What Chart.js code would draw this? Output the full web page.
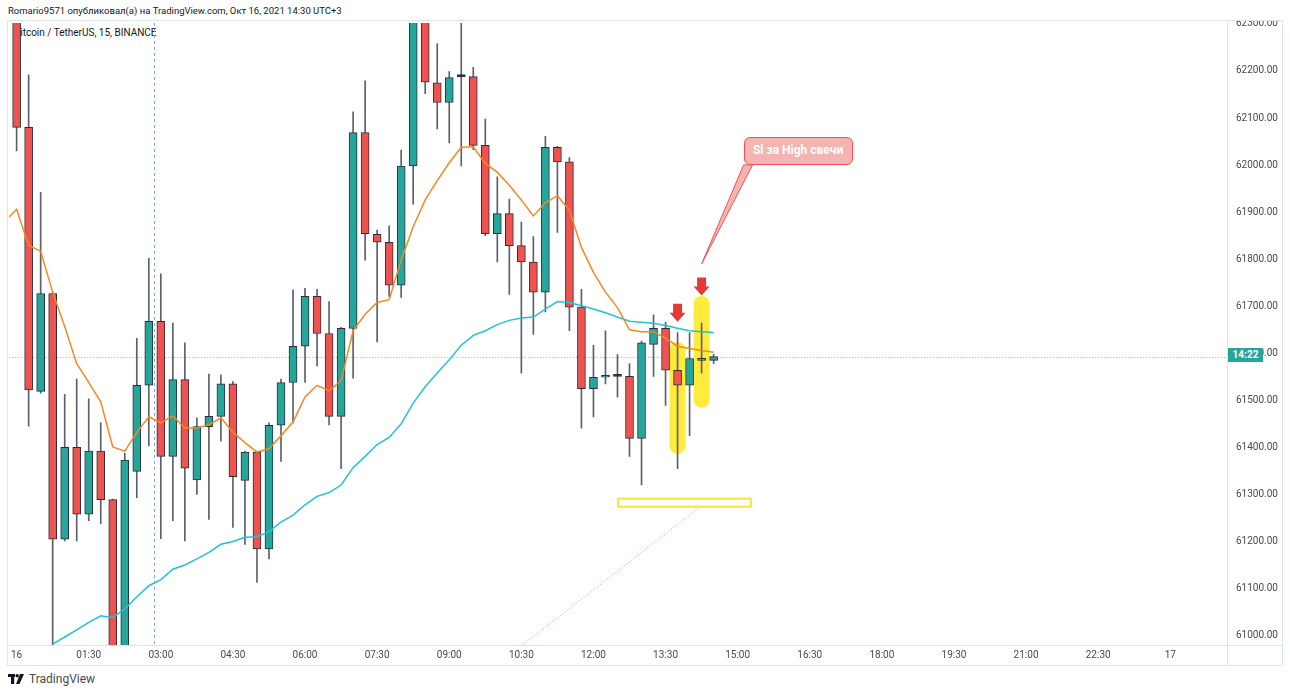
<!DOCTYPE html>
<html>
<head>
<meta charset="utf-8">
<script src="https://cdn.jsdelivr.net/npm/chart.js@4.4.1/dist/chart.umd.min.js"></script>
<style>
  body { margin:0; background:#fff; width:1290px; height:693px; overflow:hidden; position:relative; font-family: Roboto, "Noto Sans", sans-serif; }
  #header { position:absolute; left:0; top:0; width:1290px; height:20px; background:#fff; z-index:3; font-size:9.5px; color:#131722; line-height:22px; padding-left:8px; box-sizing:border-box; }
  #symbol { position:absolute; left:14px; top:27px; font-size:10px; color:#131722; z-index:0; }
  #wrap { position:absolute; left:7px; top:8px; width:1276px; height:657px; z-index:1; }
  .ln { position:absolute; background:#e0e3eb; z-index:2; }
  #timer { position:absolute; left:1228px; top:348px; width:35px; height:14px; background:#26a69a; color:#fff; font-size:10px; font-weight:bold; text-align:center; line-height:14px; z-index:4; }
  #callout { position:absolute; width:109px; height:28px; box-sizing:border-box; background:#f4b4b2; border:1.5px solid #ef5350; border-radius:6px; color:#fff; font-size:12px; font-weight:bold; text-align:center; line-height:25px; z-index:4; }
  #logo { position:absolute; left:8px; top:672px; height:14px; display:flex; align-items:center; gap:5px; font-size:12px; color:#4a4a4a; }
</style>
</head>
<body>
<div id="header">Romario9571 опубликовал(а) на TradingView.com, Окт 16, 2021 14:30 UTC+3</div>
<div id="symbol">Bitcoin / TetherUS, 15, BINANCE</div>
<div id="wrap"><canvas id="myChart" width="1276" height="657"></canvas></div>
<div class="ln" style="left:7px;top:20px;width:1276px;height:1px"></div>
<div class="ln" style="left:7px;top:665px;width:1276px;height:1px"></div>
<div class="ln" style="left:7px;top:20px;width:1px;height:646px"></div>
<div class="ln" style="left:1282px;top:20px;width:1px;height:646px"></div>
<div class="ln" style="left:7px;top:645px;width:1276px;height:1px"></div>
<div class="ln" style="left:1227px;top:20px;width:1px;height:646px"></div>
<div id="timer">14:22</div>
<div id="callout">Sl за High свечи</div>
<div id="logo">
  <svg width="16" height="10" viewBox="0 0 16 10"><rect x="0" y="0" width="7" height="3" fill="#131722"/><rect x="3" y="0" width="3.2" height="10" fill="#131722"/><circle cx="9.2" cy="1.7" r="1.7" fill="#131722"/><polygon points="12,0 16,0 11.5,10 8,10" fill="#131722"/></svg>
  <span>TradingView</span>
</div>
<script>
// 15m candles, 16 Oct 00:00 .. 14:30
const opens  = [62360,62080,61519,61727,61205,61400,61258,61392,61289,60950,
                61349,61532,61668,61381,61544,61331,61444,61466,61535,61330,
                61390,61184,61447,61538,61615,61721,61642,61466,61653,62069,
                61853,61836,61745,61998,62320,62175,62133,62188,62188,62042,
                61854,61897,61829,61794,61730,62038,62007,61698,61525,61549,
                61551,61551,61419,61619,61653,61564,61532,61589,61585];
const highs  = [62400,62192,61942,61730,61513,61545,61503,61452,61290,61388,
                61632,61802,61769,61664,61622,61463,61556,61554,61540,61392,
                61392,61452,61545,61735,61738,61736,61710,61655,62113,62179,
                61862,61871,62032,62340,62335,62258,62199,62310,62208,62098,
                61975,61928,61879,61848,62061,62040,62016,61736,61617,61648,
                61597,61578,61626,61682,61666,61644,61644,61664,61598];
const lows   = [62030,61445,61515,60975,61201,61201,61244,61238,60930,60930,
                61293,61403,61206,61244,61201,61300,61247,61413,61230,61194,
                61113,61163,61370,61452,61538,61573,61448,61355,61547,61798,
                61624,61721,61719,61917,62152,62077,62047,61998,62033,61850,
                61794,61725,61558,61640,61688,61857,61648,61441,61465,61535,
                61507,61381,61320,61551,61489,61355,61425,61558,61578];
const closes = [62080,61522,61727,61205,61400,61258,61392,61289,60950,61373,
                61532,61668,61381,61544,61356,61444,61466,61535,61338,61390,
                61184,61447,61538,61615,61721,61642,61466,61653,62069,61854,
                61836,61745,61998,62320,62176,62133,62186,62188,62042,61854,
                61897,61829,61794,61730,62038,62007,61698,61525,61549,61553,
                61551,61419,61622,61653,61564,61532,61589,61585,61593];

// orange EMA, from the bar before 00:00
const emaFast = [61880,61906,61829,61817,61730,61657,61578,61538,61497,61401,61392,
                 61432,61465,61452,61467,61441,61441,61448,61463,61432,61410,
                 61390,61397,61425,61454,61507,61532,61520,61542,61648,61683,
                 61708,61714,61798,61869,61926,61967,62005,62038,62039,62003,
                 61985,61957,61926,61892,61920,61935,61904,61825,61772,61730,
                 61697,61650,61646,61646,61632,61615,61610,61606,61602];
// cyan EMA, visible from bar 3
const emaSlow = [null,null,null,60982,60997,61012,61028,61042,61038,61057,
                 61082,61106,61119,61141,61150,61163,61177,61194,61200,61209,
                 61210,61221,61241,61256,61278,61296,61304,61320,61357,61381,
                 61406,61421,61450,61494,61529,61558,61586,61617,61638,61648,
                 61661,61670,61675,61677,61694,61710,61708,61701,61694,61686,
                 61677,61668,61666,61664,61659,61653,61648,61646,61644];

const timeLabels = ['16','01:30','03:00','04:30','06:00','07:30','09:00','10:30','12:00',
                    '13:30','15:00','16:30','18:00','19:30','21:00','22:30','17'];
const priceTicks = [61000,61100,61200,61300,61400,61500,61600,61700,61800,61900,62000,62100,62200,62300];
const lastPrice = 61593;

const GREEN = '#26a69a', RED = '#ef5350', DOJI = '#131722';

const idx = opens.map((_, i) => i);
const bodyData = idx.map(i => ({ x: i, y: [opens[i], closes[i]] }));
const wickData = idx.map(i => ({ x: i, y: [lows[i], highs[i]] }));
const bodyColors = idx.map(i => closes[i] > opens[i] ? GREEN : (closes[i] < opens[i] ? RED : DOJI));
const fastData = emaFast.map((v, i) => ({ x: i - 1, y: v }));
const slowData = emaSlow.map((v, i) => ({ x: i, y: v }));

function arrowDown(ctx, cx, tipY) {
  ctx.beginPath();
  ctx.moveTo(cx - 4.5, tipY - 18);
  ctx.lineTo(cx + 4.5, tipY - 18);
  ctx.lineTo(cx + 4.5, tipY - 9);
  ctx.lineTo(cx + 8, tipY - 9);
  ctx.lineTo(cx, tipY);
  ctx.lineTo(cx - 8, tipY - 9);
  ctx.lineTo(cx - 4.5, tipY - 9);
  ctx.closePath();
  ctx.fill();
}

const drawings = {
  id: 'drawings',
  beforeDatasetsDraw(chart) {
    const { ctx, chartArea: a, scales: { x, y } } = chart;
    ctx.save();
    ctx.beginPath(); ctx.rect(a.left, a.top, a.width, a.height); ctx.clip();

    // vertical dashed line
    const vx = Math.round(x.getPixelForValue(11.43)) + 0.5;
    ctx.strokeStyle = '#7ea8f2'; ctx.lineWidth = 1; ctx.setLineDash([3, 3]);
    ctx.beginPath(); ctx.moveTo(vx, a.top); ctx.lineTo(vx, a.bottom); ctx.stroke();

    // last price line
    const py = Math.round(y.getPixelForValue(lastPrice)) + 0.5;
    ctx.strokeStyle = 'rgba(38,166,154,0.65)'; ctx.setLineDash([1, 2]);
    ctx.beginPath(); ctx.moveTo(a.left, py); ctx.lineTo(a.right, py); ctx.stroke();
    ctx.setLineDash([]);

    // yellow highlights
    ctx.fillStyle = '#ffeb3b';
    [[55, 61624, 61386], [57, 61722, 61484]].forEach(([i, top, bot]) => {
      const cx = x.getPixelForValue(i);
      const t = y.getPixelForValue(top), b = y.getPixelForValue(bot);
      ctx.beginPath(); ctx.roundRect(cx - 8, t, 16, b - t, 8); ctx.fill();
    });
    ctx.restore();
  },
  afterDatasetsDraw(chart) {
    const { ctx, chartArea: a, scales: { x, y } } = chart;
    ctx.save();
    ctx.beginPath(); ctx.rect(a.left, a.top, a.width, a.height); ctx.clip();

    // dotted trend line
    ctx.strokeStyle = '#f08a84'; ctx.lineWidth = 1; ctx.setLineDash([1, 2]);
    ctx.beginPath();
    ctx.moveTo(x.getPixelForValue(56.9), y.getPixelForValue(61274));
    ctx.lineTo(x.getPixelForValue(37.8), y.getPixelForValue(60895));
    ctx.stroke();
    ctx.setLineDash([]);

    // yellow box
    const rx1 = x.getPixelForValue(50.05), rx2 = x.getPixelForValue(61.1);
    const ry1 = y.getPixelForValue(61291), ry2 = y.getPixelForValue(61274);
    ctx.strokeStyle = '#f8e43c'; ctx.lineWidth = 2;
    ctx.strokeRect(rx1, ry1, rx2 - rx1, ry2 - ry1);

    // arrows
    ctx.fillStyle = '#e53935';
    arrowDown(ctx, x.getPixelForValue(55), y.getPixelForValue(61667));
    arrowDown(ctx, x.getPixelForValue(57), y.getPixelForValue(61723));

    // callout pointer
    const tx = x.getPixelForValue(57), ty = y.getPixelForValue(61790);
    ctx.fillStyle = '#f4b4b2'; ctx.strokeStyle = '#ef5350'; ctx.lineWidth = 1;
    ctx.beginPath();
    ctx.moveTo(tx + 42, ty - 99);
    ctx.lineTo(tx, ty);
    ctx.lineTo(tx + 51, ty - 99);
    ctx.closePath(); ctx.fill(); ctx.stroke();
    ctx.restore();

    const box = document.getElementById('callout');
    box.style.left = (7 + tx + 42) + 'px';
    box.style.top = (8 + ty - 127) + 'px';
  }
};

const config = {
  data: {
    datasets: [
      { type: 'line', data: fastData, borderColor: '#f7881f', borderWidth: 1.5, pointRadius: 0, tension: 0, order: 0 },
      { type: 'line', data: slowData, borderColor: '#1fc3dc', borderWidth: 1.5, pointRadius: 0, tension: 0, order: 0 },
      { type: 'bar', data: bodyData, backgroundColor: bodyColors, borderColor: '#2a2e39', borderWidth: 1,
        borderSkipped: false, barThickness: 8, minBarLength: 2, grouped: false, order: 1 },
      { type: 'bar', data: wickData, backgroundColor: '#5d606b', borderWidth: 0,
        barThickness: 1, grouped: false, order: 2 }
    ]
  },
  options: {
    responsive: false,
    animation: false,
    layout: { padding: { top: 12, left: 0, right: 0, bottom: 0 } },
    plugins: { legend: { display: false }, tooltip: { enabled: false } },
    scales: {
      x: {
        type: 'linear', min: -0.615, max: 100.72, offset: false,
        grid: { display: false, drawTicks: false }, border: { display: false },
        afterBuildTicks: s => { s.ticks = timeLabels.map((_, k) => ({ value: k * 6 })); },
        afterFit: s => { s.height = 20; },
        ticks: { autoSkip: false, maxRotation: 0, padding: 4, color: '#4a4a4a',
                 font: { family: 'Roboto', size: 10 },
                 callback: v => timeLabels[Math.round(v / 6)] }
      },
      y: {
        position: 'right', min: 60980, max: 62302,
        grid: { display: false, drawTicks: false }, border: { display: false },
        afterBuildTicks: s => { s.ticks = priceTicks.map(v => ({ value: v })); },
        afterFit: s => { s.width = 56; },
        ticks: { padding: 9, color: '#4a4a4a', font: { family: 'Roboto', size: 10 },
                 callback: v => v.toFixed(2) }
      }
    }
  },
  plugins: [drawings]
};

const myChart = new Chart(document.getElementById('myChart'), config);
</script>
</body>
</html>
